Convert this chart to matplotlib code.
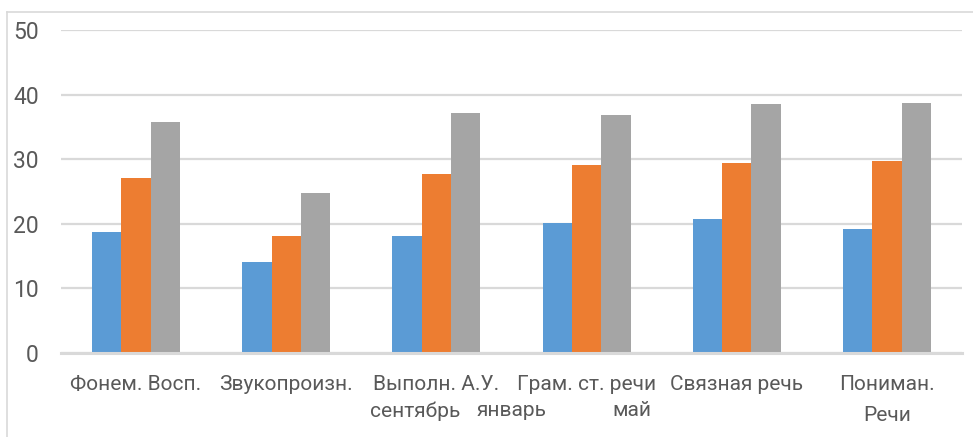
import numpy as np
import matplotlib
matplotlib.use("Agg")
import matplotlib.pyplot as plt
from matplotlib.lines import Line2D

plt.rcParams['font.family'] = ['Roboto', 'DejaVu Sans']

# data
categories = ["Фонем. Восп.", "Звукопроизн.", "Выполн. А.У.", "Грам. ст. речи",
              "Связная речь", "Пониман.\nРечи"]
series_names = ["сентябрь", "январь", "май"]
september = [18.7, 14.1, 18.1, 20.1, 20.7, 19.2]
january = [27.1, 18.1, 27.7, 29.1, 29.4, 29.7]
may = [35.8, 24.8, 37.2, 36.8, 38.5, 38.7]

colors = ["#5b9bd5", "#ed7d31", "#a5a5a5"]
text_col = "#595959"
grid_col = "#d9d9d9"

W, H = 973, 437
fig = plt.figure(figsize=(W / 100, H / 100), dpi=100)
ax = fig.add_axes([61 / W, (H - 353) / H, 901 / W, 323 / H])

x = np.arange(len(categories))
bw = 0.195
for i, vals in enumerate([september, january, may]):
    ax.bar(x + (i - 1) * bw, vals, bw, color=colors[i], zorder=3, label=series_names[i])

ax.set_xlim(-0.5, len(categories) - 0.5)
ax.set_ylim(0, 50)
ax.set_yticks(range(0, 51, 10))
ax.yaxis.grid(True, color=grid_col, linewidth=1.6, zorder=0)
ax.set_axisbelow(True)
for s in ["top", "right", "left"]:
    ax.spines[s].set_visible(False)
ax.spines["bottom"].set_color(grid_col)
ax.spines["bottom"].set_linewidth(2.2)
ax.spines["bottom"].set_zorder(4)
ax.tick_params(axis="y", length=0, pad=16, labelsize=16.5, labelcolor=text_col)
ax.tick_params(axis="x", length=0, pad=16, labelsize=15, labelcolor=text_col)
ax.set_xticks(x)
ax.set_xticklabels(categories, linespacing=1.8)

# legend entries sit under the middle labels
leg_x = [415, 512, 632]
for name, lx in zip(series_names, leg_x):
    fig.text(lx / W, 1 - 411 / H, name, ha="center", va="center",
             fontsize=15, color=text_col)

# outer chart border (left and top edges visible)
fig.add_artist(Line2D([7 / W, 7 / W], [0, 1 - 12 / H], color=grid_col,
                      linewidth=1.2, transform=fig.transFigure))
fig.add_artist(Line2D([7 / W, 1], [1 - 12 / H, 1 - 12 / H], color=grid_col,
                      linewidth=1.2, transform=fig.transFigure))

fig.savefig("out.png", dpi=100)
